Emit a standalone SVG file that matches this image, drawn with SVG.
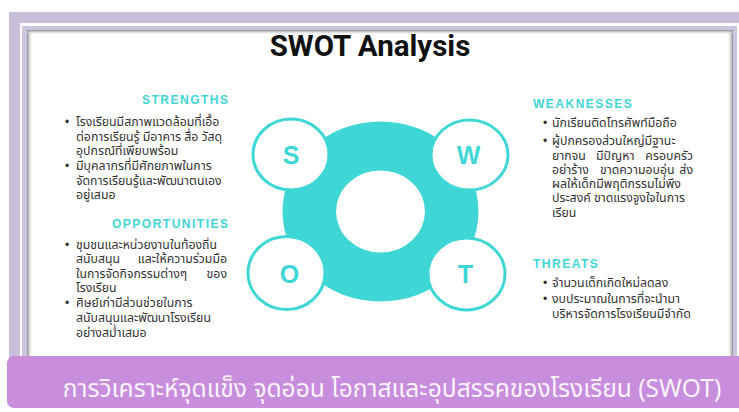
<svg xmlns="http://www.w3.org/2000/svg" width="739" height="412" viewBox="0 0 739 412">
<style>
.th{font-family:"Noto Sans Thai","Noto Sans","DejaVu Sans",sans-serif;font-size:12.3px;fill:#333}
.hd{font-family:"Liberation Sans",Arial,sans-serif;font-weight:700;font-size:12px;letter-spacing:1.5px;fill:#3fd7d5}
.ltr{font-family:"Liberation Sans",Arial,sans-serif;font-weight:700;font-size:25px;fill:#3fd7d5;text-anchor:middle}
.sc{fill:#fff;stroke:#3fd7d5;stroke-width:3}
.bul{font-family:"Liberation Sans",Arial,sans-serif;font-size:12px;fill:#333}
</style>
<defs>
<linearGradient id="gl" x1="0" y1="0" x2="1" y2="0"><stop offset="0" stop-color="#8a8a8a"/><stop offset="1" stop-color="#fff" stop-opacity="0"/></linearGradient>
<linearGradient id="gr" x1="1" y1="0" x2="0" y2="0"><stop offset="0" stop-color="#8a8a8a"/><stop offset="1" stop-color="#fff" stop-opacity="0"/></linearGradient>
<linearGradient id="gt" x1="0" y1="0" x2="0" y2="1"><stop offset="0" stop-color="#8a8a8a"/><stop offset="1" stop-color="#fff" stop-opacity="0"/></linearGradient>
</defs>
<rect width="739" height="412" fill="#fff"/>
<g id="frame">
<rect x="9" y="12" width="730" height="350" fill="#c9bfdb"/>
<rect x="20" y="23" width="719" height="340" fill="#fff"/>
<rect x="22" y="26" width="715" height="336" fill="#cdc4de"/>
<rect x="27" y="30" width="706" height="332" fill="#fff"/>
<rect x="27" y="30" width="6" height="332" fill="url(#gl)"/>
<rect x="727" y="30" width="6" height="332" fill="url(#gr)"/>
<rect x="27" y="30" width="706" height="5" fill="url(#gt)"/>
</g>
<text x="370" y="56" font-family="Roboto,'Liberation Sans',sans-serif" font-weight="700" font-size="29.5" fill="#111" text-anchor="middle">SWOT Analysis</text>
<g id="ring">
<path d="M282.5,211.5a98,90 0 1,0 196,0a98,90 0 1,0 -196,0ZM336,211.5a44.5,41 0 1,0 89,0a44.5,41 0 1,0 -89,0Z" fill="#3fd7d5" fill-rule="evenodd"/>
</g>
<g id="node-s"><ellipse class="sc" cx="291" cy="154.5" rx="38" ry="35.5"/><text class="ltr" x="291" y="164">S</text></g>
<g id="node-w"><ellipse class="sc" cx="469.5" cy="155" rx="38.5" ry="35"/><text class="ltr" x="468.5" y="164">W</text></g>
<g id="node-o"><ellipse class="sc" cx="286.5" cy="273" rx="38.5" ry="36.5"/><text class="ltr" x="289.5" y="283">O</text></g>
<g id="node-t"><ellipse class="sc" cx="466.5" cy="274" rx="38.5" ry="36"/><text class="ltr" x="465.5" y="283">T</text></g>
<g id="strengths">
<text class="hd" x="229.5" y="104" text-anchor="end">STRENGTHS</text>
<text class="bul" x="65" y="126">•</text>
<text class="th" x="76" y="126">โรงเรียนมีสภาพแวดล้อมที่เอื้อ</text>
<text class="th" x="76" y="141">ต่อการเรียนรู้ มีอาคาร สื่อ วัสดุ</text>
<text class="th" x="76" y="155">อุปกรณ์ที่เพียบพร้อม</text>
<text class="bul" x="65" y="170">•</text>
<text class="th" x="76" y="170">มีบุคลากรที่มีศักยภาพในการ</text>
<text class="th" x="76" y="185">จัดการเรียนรู้และพัฒนาตนเอง</text>
<text class="th" x="76" y="199">อยู่เสมอ</text>
</g>
<g id="opportunities">
<text class="hd" x="229.5" y="228" text-anchor="end">OPPORTUNITIES</text>
<text class="bul" x="65" y="249">•</text>
<text class="th" x="76" y="249">ชุมชนและหน่วยงานในท้องถิ่น</text>
<text class="th" x="76" y="263">สนับสนุน</text>
<text class="th" x="227" y="263" text-anchor="end">และให้ความร่วมมือ</text>
<text class="th" x="76" y="278">ในการจัดกิจกรรมต่างๆ</text>
<text class="th" x="227" y="278" text-anchor="end">ของ</text>
<text class="th" x="76" y="292">โรงเรียน</text>
<text class="bul" x="65" y="307">•</text>
<text class="th" x="76" y="307">ศิษย์เก่ามีส่วนช่วยในการ</text>
<text class="th" x="76" y="322">สนับสนุนและพัฒนาโรงเรียน</text>
<text class="th" x="76" y="337">อย่างสม่ำเสมอ</text>
</g>
<g id="weaknesses">
<text class="hd" x="533" y="108">WEAKNESSES</text>
<text class="bul" x="543" y="127">•</text>
<text class="th" x="552" y="127">นักเรียนติดโทรศัพท์มือถือ</text>
<text class="bul" x="543" y="145">•</text>
<text class="th" x="552" y="145">ผู้ปกครองส่วนใหญ่มีฐานะ</text>
<text class="th" x="552" y="160">ยากจน</text>
<text class="th" x="596" y="160">มีปัญหา</text>
<text class="th" x="693" y="160" text-anchor="end">ครอบครัว</text>
<text class="th" x="552" y="174">อย่าร้าง</text>
<text class="th" x="600" y="174">ขาดความอบอุ่น</text>
<text class="th" x="693" y="174" text-anchor="end">ส่ง</text>
<text class="th" x="552" y="188">ผลให้เด็กมีพฤติกรรมไม่พึง</text>
<text class="th" x="552" y="202">ประสงค์ ขาดแรงจูงใจในการ</text>
<text class="th" x="552" y="217">เรียน</text>
</g>
<g id="threats">
<text class="hd" x="533" y="268">THREATS</text>
<text class="bul" x="543" y="287">•</text>
<text class="th" x="552" y="287">จำนวนเด็กเกิดใหม่ลดลง</text>
<text class="bul" x="543" y="303">•</text>
<text class="th" x="552" y="303">งบประมาณในการที่จะนำมา</text>
<text class="th" x="552" y="318">บริหารจัดการโรงเรียนมีจำกัด</text>
</g>
<g id="banner">
<rect x="7" y="356" width="745" height="52" rx="7" fill="#c88ddc"/>
<text x="392" y="397" font-family="'Noto Sans Thai','Noto Sans','DejaVu Sans',sans-serif" font-size="24.6" fill="#fbf4ff" text-anchor="middle">การวิเคราะห์จุดแข็ง จุดอ่อน โอกาสและอุปสรรคของโรงเรียน (SWOT)</text>
</g>
</svg>
